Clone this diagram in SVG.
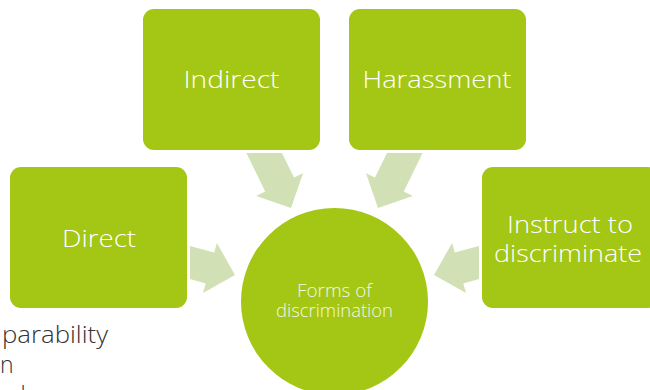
<svg xmlns="http://www.w3.org/2000/svg" width="650" height="390" viewBox="0 0 650 390">
<style>
.box{fill:#a4c615}
.arrow{fill:#d1e1b5}
.lbl{font-family:"Open Sans","DejaVu Sans",sans-serif;font-size:24px;font-weight:300;fill:#ffffff;text-anchor:middle}
.clbl{font-family:"Open Sans","DejaVu Sans",sans-serif;font-size:17.5px;font-weight:300;fill:#f3f7e6;text-anchor:middle}
.side{font-family:"Open Sans","DejaVu Sans",sans-serif;font-size:23px;font-weight:300;fill:#333333}
</style>
<rect width="650" height="390" fill="#ffffff"/>
<g id="side-text">
<text class="side" x="2" y="343" textLength="106" lengthAdjust="spacingAndGlyphs">parability</text>
<text class="side" x="0" y="373">n</text>
<text class="side" x="12" y="403">d</text>
</g>
<g id="connectors">
<polygon class="arrow" points="246.4,153 282,153 294,177.6 303,173.2 291,208 256.2,196 265.2,191.6"/>
<polygon class="arrow" points="422.6,153 387,153 375,177.6 366,173.2 378,208 412.8,196 403.8,191.6"/>
<polygon class="arrow" points="190,245.9 214.2,252.6 216.9,243 235,275 203,293.1 205.7,283.5 190,279.1"/>
<polygon class="arrow" points="479,245.9 454.8,252.6 452.1,243 434,275 466,293.1 463.3,283.5 479,279.1"/>
</g>
<g id="indirect">
<rect class="box" x="143" y="9" width="177" height="141" rx="11"/>
<text class="lbl" x="231.5" y="88" textLength="96" lengthAdjust="spacingAndGlyphs">Indirect</text>
</g>
<g id="harassment">
<rect class="box" x="349" y="9" width="177" height="141" rx="11"/>
<text class="lbl" x="437" y="88" textLength="149" lengthAdjust="spacingAndGlyphs">Harassment</text>
</g>
<g id="direct">
<rect class="box" x="10" y="167" width="177" height="141" rx="11"/>
<text class="lbl" x="99" y="247" textLength="74" lengthAdjust="spacingAndGlyphs">Direct</text>
</g>
<g id="instruct">
<rect class="box" x="482" y="167" width="177" height="141" rx="11"/>
<text class="lbl" x="570" y="233" textLength="126" lengthAdjust="spacingAndGlyphs">Instruct to</text>
<text class="lbl" x="568" y="262" textLength="148" lengthAdjust="spacingAndGlyphs">discriminate</text>
</g>
<g id="forms">
<circle class="box" cx="334.5" cy="301.5" r="93.5"/>
<text class="clbl" x="334.5" y="297" textLength="75" lengthAdjust="spacingAndGlyphs">Forms of</text>
<text class="clbl" x="334.5" y="317" textLength="117" lengthAdjust="spacingAndGlyphs">discrimination</text>
</g>
</svg>
